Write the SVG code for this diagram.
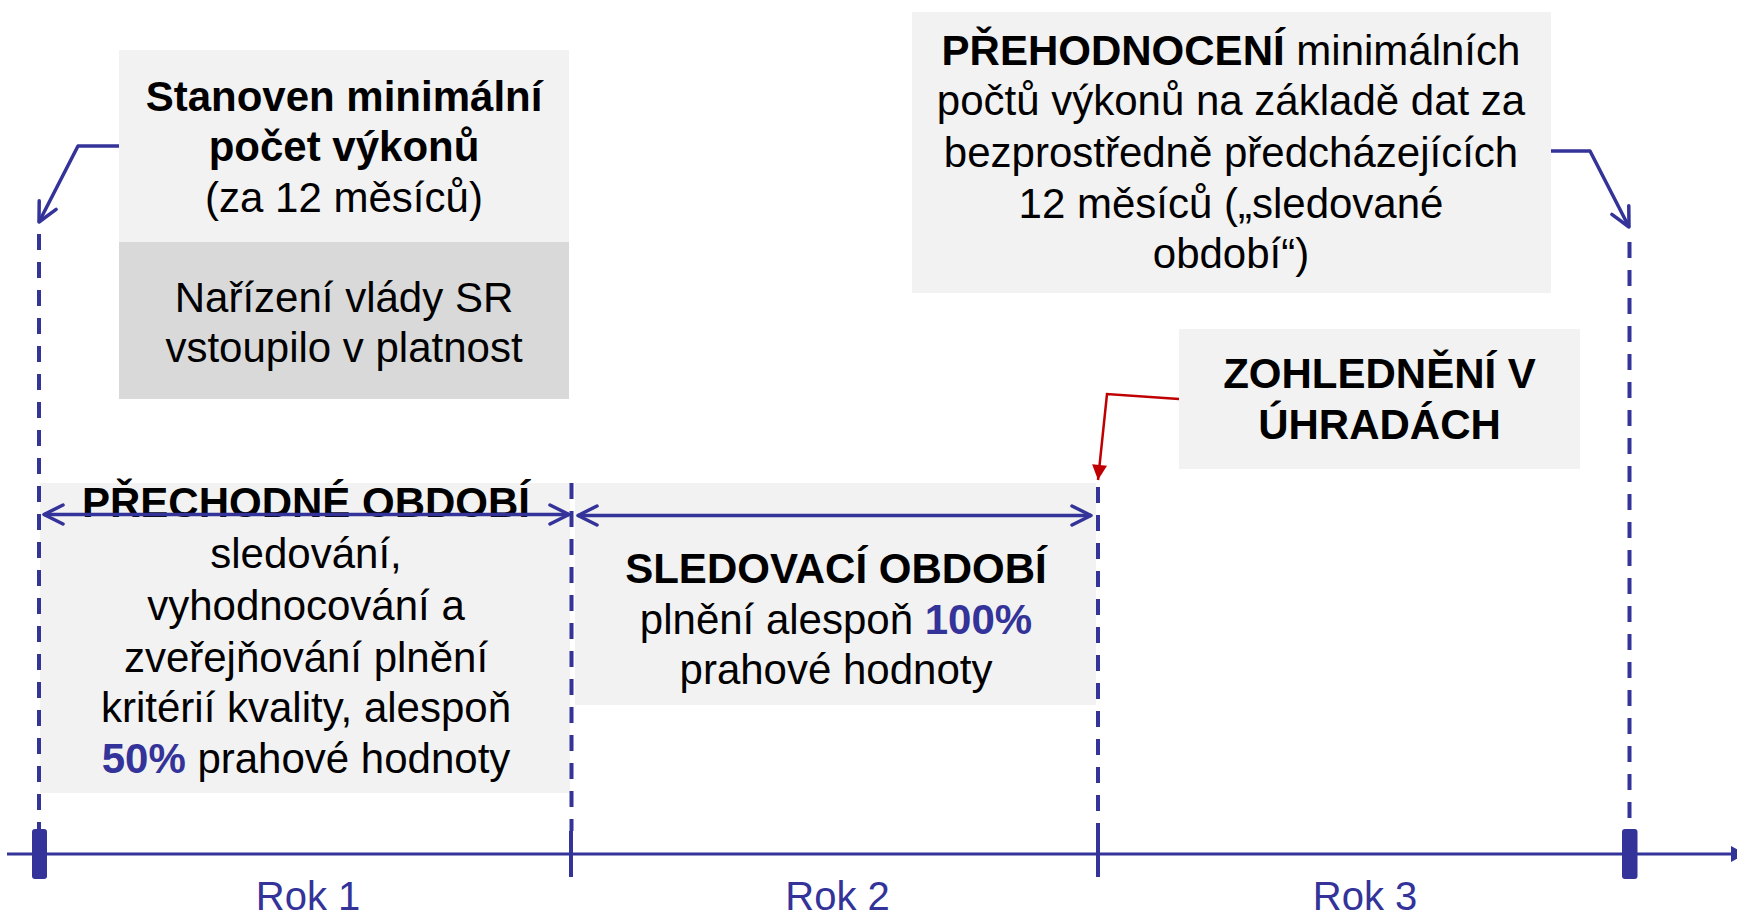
<svg xmlns="http://www.w3.org/2000/svg" width="1737" height="919" viewBox="0 0 1737 919">
<style>
  .box { fill: #F2F2F2; }
  .dark { fill: #D9D9D9; }
  text { font-family: "Liberation Sans", Arial, sans-serif; font-size: 42px; fill: #000; text-anchor: middle; }
  .b { font-weight: bold; }
  .blue { fill: #333399; font-weight: bold; }
  .rok { fill: #333399; font-size: 40px; }
  .line { fill: none; stroke: #333399; stroke-width: 3.5; stroke-linejoin: round; }
  .dash { fill: none; stroke: #333399; stroke-width: 4; stroke-dasharray: 16 12; }
  .tick { stroke: #333399; stroke-width: 4; }
  .red { fill: none; stroke: #C00000; stroke-width: 2.5; }
</style>
<defs>
  <marker id="open" viewBox="-24 -13 28 26" refX="0" refY="0" markerWidth="28" markerHeight="26" markerUnits="userSpaceOnUse" orient="auto-start-reverse">
    <path d="M-19,-9.5 L0,0 L-19,9.5" fill="none" stroke="#333399" stroke-width="3.5" stroke-linecap="round" stroke-linejoin="round"/>
  </marker>
  <marker id="redtri" viewBox="-16 -9 18 18" refX="0" refY="0" markerWidth="18" markerHeight="18" markerUnits="userSpaceOnUse" orient="auto">
    <path d="M-15,-7.5 L0,0 L-15,7.5 Z" fill="#C00000"/>
  </marker>
</defs>

<g id="node-stanoven">
  <rect class="box" x="119" y="50" width="450" height="192"/>
  <text x="344" y="111" class="b">Stanoven minimální</text>
  <text x="344" y="161" class="b">počet výkonů</text>
  <text x="344" y="212">(za 12 měsíců)</text>
</g>
<g id="node-narizeni">
  <rect class="dark" x="119" y="242" width="450" height="157"/>
  <text x="344" y="312">Nařízení vlády SR</text>
  <text x="344" y="362">vstoupilo v platnost</text>
</g>
<g id="node-prehodnoceni">
  <rect class="box" x="912" y="12" width="639" height="281"/>
  <text x="1231" y="65"><tspan class="b">PŘEHODNOCENÍ</tspan> minimálních</text>
  <text x="1231" y="115">počtů výkonů na základě dat za</text>
  <text x="1231" y="167">bezprostředně předcházejících</text>
  <text x="1231" y="218">12 měsíců („sledované</text>
  <text x="1231" y="268">období“)</text>
</g>
<g id="node-zohledneni">
  <rect class="box" x="1179" y="329" width="401" height="140"/>
  <text x="1379.5" y="388" class="b">ZOHLEDNĚNÍ V</text>
  <text x="1379.5" y="439" class="b">ÚHRADÁCH</text>
</g>
<g id="node-prechodne">
  <rect class="box" x="40" y="483" width="530" height="310"/>
  <text x="306" y="517" class="b">PŘECHODNÉ OBDOBÍ</text>
  <text x="306" y="568">sledování,</text>
  <text x="306" y="620">vyhodnocování a</text>
  <text x="306" y="672">zveřejňování plnění</text>
  <text x="306" y="722">kritérií kvality, alespoň</text>
  <text x="306" y="773"><tspan class="blue">50%</tspan> prahové hodnoty</text>
</g>
<g id="node-sledovaci">
  <rect class="box" x="575" y="483" width="521" height="222"/>
  <text x="836" y="583" class="b">SLEDOVACÍ OBDOBÍ</text>
  <text x="836" y="634">plnění alespoň <tspan class="blue">100%</tspan></text>
  <text x="836" y="684">prahové hodnoty</text>
</g>
<g id="axis">
  <line x1="7" y1="854" x2="1733" y2="854" stroke="#333399" stroke-width="3"/>
  <path d="M1731,846 L1746,854 L1731,862 Z" fill="#333399"/>
  <rect x="32" y="829" width="15" height="50" rx="3" fill="#333399"/>
  <rect x="1622" y="829" width="15.5" height="50" rx="3" fill="#333399"/>
  <line class="tick" x1="571" y1="831" x2="571" y2="877"/>
  <line class="tick" x1="1098" y1="831" x2="1098" y2="877"/>
  <text class="rok" x="308" y="910">Rok 1</text>
  <text class="rok" x="837.5" y="910">Rok 2</text>
  <text class="rok" x="1365" y="910">Rok 3</text>
</g>
<g id="connectors">
  <line class="dash" x1="39" y1="234" x2="39" y2="829"/>
  <line class="dash" x1="571.5" y1="483" x2="571.5" y2="831"/>
  <line class="dash" x1="1098" y1="487" x2="1098" y2="831"/>
  <line class="dash" x1="1629.5" y1="242" x2="1629.5" y2="829"/>
  <path class="line" d="M119,146 L78,146 L39,222" marker-end="url(#open)"/>
  <path class="line" d="M1551,151 L1590,151 L1629,227" marker-end="url(#open)"/>
  <path class="line" d="M44,514.5 L569,514.5" marker-start="url(#open)" marker-end="url(#open)"/>
  <path class="line" d="M578,515.5 L1091,515.5" marker-start="url(#open)" marker-end="url(#open)"/>
  <path class="red" d="M1179,399 L1107,394 L1098,480" marker-end="url(#redtri)"/>
</g>
</svg>
